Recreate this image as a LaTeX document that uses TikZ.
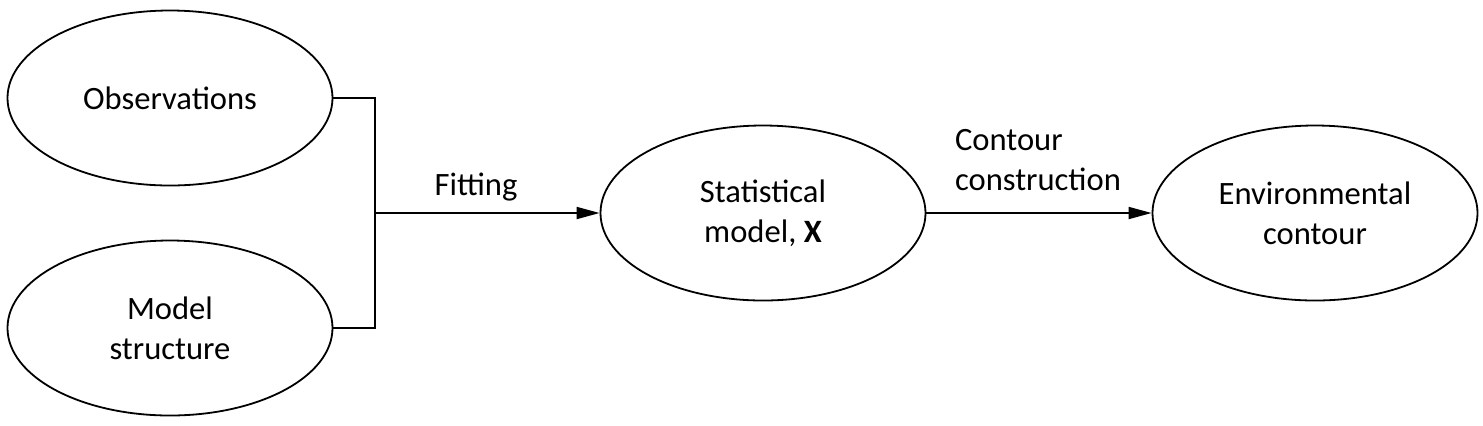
\documentclass[tikz,border=0pt]{standalone}
\usepackage{fontspec}
\setmainfont{Carlito}
\usepackage{tikz}
\usetikzlibrary{arrows.meta,shapes.geometric,positioning}
\tikzset{
>={Triangle[length=11.5pt,width=6pt]},
blob/.style={ellipse,draw,line width=0.9pt,minimum width=162.5pt,minimum height=87.5pt,inner sep=0pt,align=center},
linea/.style={line width=0.9pt},
freccia/.style={->,line width=0.9pt}}

\begin{document}
\begin{tikzpicture}[x=0.5pt,y=-0.5pt,font=\fontsize{16.3}{20}\selectfont]
\useasboundingbox (0,0) rectangle (1483,425);

\node[blob] (obs) at (170,98) {Observations};
\node[blob] (ms) at (170,328) {Model\\structure};
\node[blob] (stat) at (763,213) {Statistical\\model, \textbf{X}};
\node[blob] (env) at (1315,213) {Environmental\\contour};

\coordinate (jn) at (375,213);
\draw[linea] (obs.east) -| (jn) |- (ms.east);
\draw[freccia] (jn) -- (stat);
\draw[freccia] (stat) -- (env);

\node (fit) at (476,187) {Fitting};
\node[align=left] (cc) at (1038,160) {Contour\\construction};

\end{tikzpicture}
\end{document}
